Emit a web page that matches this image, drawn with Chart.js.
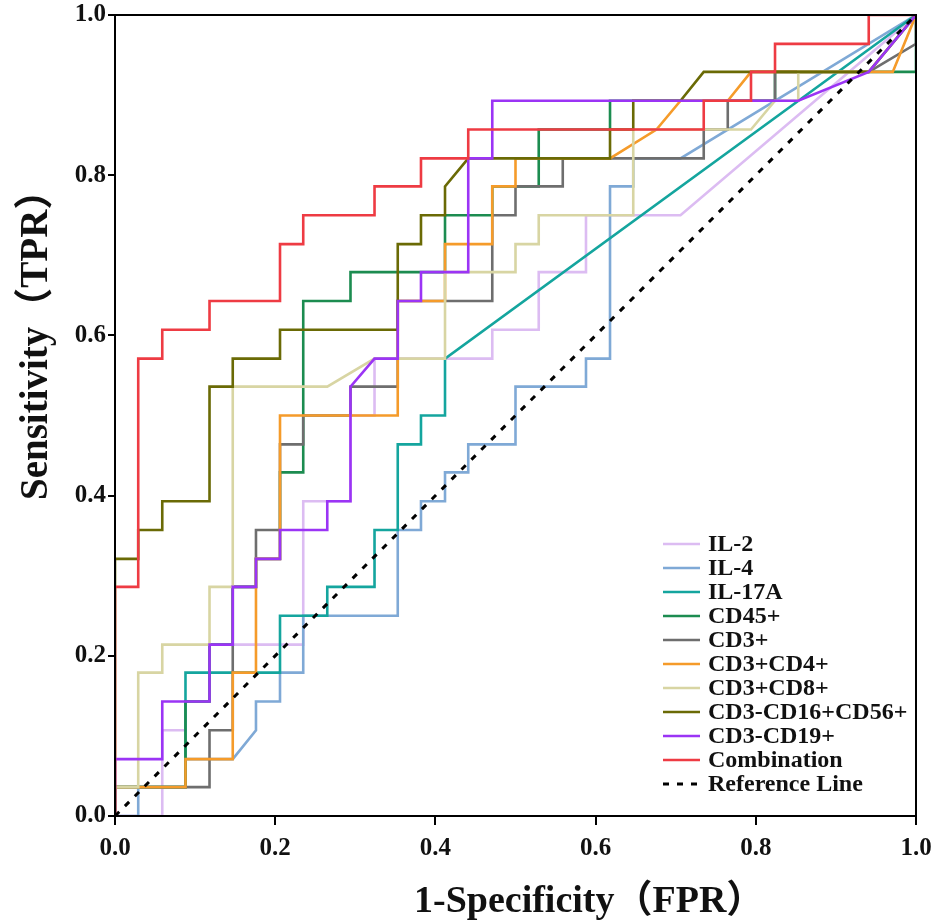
<!DOCTYPE html>
<html>
<head>
<meta charset="utf-8">
<script src="https://cdn.jsdelivr.net/npm/chart.js@4.4.1/dist/chart.umd.min.js"></script>
<style>
  html, body { margin: 0; padding: 0; background: #ffffff; }
  #wrap { width: 935px; height: 922px; }
</style>
</head>
<body>
<div id="wrap"><canvas id="c" width="935" height="922"></canvas></div>
<script>
// ---- data ----
const seriesNames = ["IL-2","IL-4","IL-17A","CD45+","CD3+","CD3+CD4+","CD3+CD8+","CD3-CD16+CD56+","CD3-CD19+","Combination"];
const referenceName = "Reference Line";
const xTickValues = [0, 0.2, 0.4, 0.6, 0.8, 1.0];

const il2_fpr = [0,0.059,0.059,0.088,0.088,0.118,0.118,0.235,0.235,0.294,0.294,0.324,0.324,0.471,0.471,0.529,0.529,0.588,0.588,0.706,1];
const il2_tpr = [0,0,0.107,0.107,0.143,0.143,0.214,0.214,0.393,0.393,0.5,0.5,0.571,0.571,0.607,0.607,0.679,0.679,0.75,0.75,1];

const il4_fpr = [0,0.029,0.029,0.088,0.088,0.147,0.176,0.176,0.206,0.206,0.235,0.235,0.353,0.353,0.382,0.382,0.412,0.412,0.441,0.441,0.5,0.5,0.588,0.588,0.618,0.618,0.647,0.647,0.706,1];
const il4_tpr = [0,0,0.036,0.036,0.071,0.071,0.107,0.143,0.143,0.179,0.179,0.25,0.25,0.357,0.357,0.393,0.393,0.429,0.429,0.464,0.464,0.536,0.536,0.571,0.571,0.786,0.786,0.821,0.821,1];

const il17a_fpr = [0,0,0.088,0.088,0.206,0.206,0.265,0.265,0.324,0.324,0.353,0.353,0.382,0.382,0.412,0.412,1];
const il17a_tpr = [0,0.036,0.036,0.179,0.179,0.25,0.25,0.286,0.286,0.357,0.357,0.464,0.464,0.5,0.5,0.571,1];

const cd45_fpr = [0,0,0.088,0.088,0.118,0.118,0.147,0.147,0.176,0.176,0.206,0.206,0.235,0.235,0.294,0.294,0.412,0.412,0.471,0.471,0.529,0.529,0.618,0.618,0.824,0.824,1,1];
const cd45_tpr = [0,0.036,0.036,0.143,0.143,0.214,0.214,0.286,0.286,0.321,0.321,0.429,0.429,0.643,0.643,0.679,0.679,0.75,0.75,0.786,0.786,0.857,0.857,0.893,0.893,0.929,0.929,1];

const cd3_fpr = [0,0,0.118,0.118,0.147,0.147,0.176,0.176,0.206,0.206,0.235,0.235,0.294,0.294,0.353,0.353,0.471,0.471,0.5,0.5,0.559,0.559,0.735,0.735,0.765,0.765,0.824,0.824,0.941,1,1];
const cd3_tpr = [0,0.036,0.036,0.107,0.107,0.286,0.286,0.357,0.357,0.464,0.464,0.5,0.5,0.536,0.536,0.643,0.643,0.75,0.75,0.786,0.786,0.821,0.821,0.857,0.857,0.893,0.893,0.929,0.929,0.964,1];

const cd3cd4_fpr = [0,0,0.088,0.088,0.147,0.147,0.176,0.176,0.206,0.206,0.353,0.353,0.412,0.412,0.471,0.471,0.5,0.5,0.618,0.676,0.706,0.765,0.794,0.971,1];
const cd3cd4_tpr = [0,0.036,0.036,0.071,0.071,0.179,0.179,0.321,0.321,0.5,0.5,0.643,0.643,0.714,0.714,0.786,0.786,0.821,0.821,0.857,0.893,0.893,0.929,0.929,1];

const cd3cd8_fpr = [0,0,0.029,0.029,0.059,0.059,0.118,0.118,0.147,0.147,0.265,0.324,0.412,0.412,0.5,0.5,0.529,0.529,0.647,0.647,0.794,0.824,0.853,0.853,0.941,1];
const cd3cd8_tpr = [0,0.036,0.036,0.179,0.179,0.214,0.214,0.286,0.286,0.536,0.536,0.571,0.571,0.679,0.679,0.714,0.714,0.75,0.75,0.857,0.857,0.893,0.893,0.929,0.929,1];

const nk_fpr = [0,0,0.029,0.029,0.059,0.059,0.118,0.118,0.147,0.147,0.206,0.206,0.353,0.353,0.382,0.382,0.412,0.412,0.441,0.618,0.618,0.647,0.647,0.706,0.735,0.941,1];
const nk_tpr = [0,0.321,0.321,0.357,0.357,0.393,0.393,0.536,0.536,0.571,0.571,0.607,0.607,0.714,0.714,0.75,0.75,0.786,0.821,0.821,0.857,0.857,0.893,0.893,0.929,0.929,1];

const cd19_fpr = [0,0,0.059,0.059,0.118,0.118,0.147,0.147,0.176,0.176,0.206,0.206,0.265,0.265,0.294,0.294,0.324,0.353,0.353,0.382,0.382,0.441,0.441,0.471,0.471,0.853,0.941,1];
const cd19_tpr = [0,0.071,0.071,0.143,0.143,0.214,0.214,0.286,0.286,0.321,0.321,0.357,0.357,0.393,0.393,0.536,0.571,0.571,0.643,0.643,0.679,0.679,0.821,0.821,0.893,0.893,0.929,1];

const comb_fpr = [0,0,0.029,0.029,0.059,0.059,0.118,0.118,0.206,0.206,0.235,0.235,0.324,0.324,0.382,0.382,0.441,0.441,0.735,0.735,0.794,0.794,0.824,0.824,0.941,0.941,1];
const comb_tpr = [0,0.286,0.286,0.571,0.571,0.607,0.607,0.643,0.643,0.714,0.714,0.75,0.75,0.786,0.786,0.821,0.821,0.857,0.857,0.893,0.893,0.929,0.929,0.964,0.964,1,1];

const ref_fpr = [0, 1];
const ref_tpr = [0, 1];

// ---- styling ----
const seriesColors = ["#dcbcf2","#7fa9d6","#14a59e","#1c8c50","#6e6e6e","#f59b2a","#d8d5a3","#6a6a05","#9b34f5","#ee3b43"];
const fprList = [il2_fpr, il4_fpr, il17a_fpr, cd45_fpr, cd3_fpr, cd3cd4_fpr, cd3cd8_fpr, nk_fpr, cd19_fpr, comb_fpr];
const tprList = [il2_tpr, il4_tpr, il17a_tpr, cd45_tpr, cd3_tpr, cd3cd4_tpr, cd3cd8_tpr, nk_tpr, cd19_tpr, comb_tpr];

function toPoints(xs, ys) { return xs.map((x, i) => ({x: x, y: ys[i]})); }

const datasets = seriesNames.map((name, i) => ({
  label: name,
  data: toPoints(fprList[i], tprList[i]),
  borderColor: seriesColors[i],
  backgroundColor: seriesColors[i],
  borderWidth: 2.6,
  pointRadius: 0,
  tension: 0,
  fill: false,
  order: seriesNames.length - i
}));
datasets.push({
  label: referenceName,
  data: toPoints(ref_fpr, ref_tpr),
  borderColor: "#000000",
  backgroundColor: "#000000",
  borderWidth: 3,
  borderDash: [6, 8],
  pointRadius: 0,
  tension: 0,
  fill: false,
  order: 0
});

const SERIF = "'Liberation Serif', 'Times New Roman', 'Noto Sans CJK SC', serif";

const overlay = {
  id: 'overlay',
  afterDatasetsDraw(chart) {
    const ctx = chart.ctx;
    const a = chart.chartArea;
    ctx.save();
    // plot frame
    ctx.strokeStyle = '#000';
    ctx.lineWidth = 2;
    ctx.setLineDash([]);
    ctx.strokeRect(a.left, a.top, a.right - a.left, a.bottom - a.top);

    // legend (inside plot, lower right)
    const lx0 = 663, lx1 = 700, tx = 708, y0 = 544, step = 24;
    ctx.font = "bold 24px " + SERIF;
    ctx.textBaseline = 'middle';
    ctx.textAlign = 'left';
    chart.data.datasets.forEach((ds, i) => {
      const y = y0 + i * step;
      ctx.beginPath();
      ctx.strokeStyle = ds.borderColor;
      ctx.lineWidth = ds.borderWidth;
      ctx.setLineDash(ds.borderDash || []);
      ctx.moveTo(lx0, y);
      ctx.lineTo(lx1, y);
      ctx.stroke();
      ctx.setLineDash([]);
      ctx.fillStyle = '#111';
      ctx.fillText(ds.label, tx, y + 1);
    });

    // axis titles
    ctx.fillStyle = '#111';
    ctx.font = "bold 38px " + SERIF;
    ctx.textBaseline = 'alphabetic';
    ctx.textAlign = 'left';
    ctx.fillText("1-Specificity（FPR）", 414, 912);
    ctx.translate(47, 500);
    ctx.rotate(-Math.PI / 2);
    ctx.font = "bold 39px " + SERIF;
    ctx.fillText("Sensitivity（TPR）", 0, 0);
    ctx.restore();
  }
};

new Chart(document.getElementById('c'), {
  type: 'line',
  data: { datasets: datasets },
  options: {
    responsive: false,
    animation: false,
    devicePixelRatio: 1,
    layout: { padding: { left: 0, right: 19, top: 15, bottom: 0 } },
    plugins: { legend: { display: false }, tooltip: { enabled: false } },
    scales: {
      x: {
        type: 'linear', min: 0, max: 1,
        afterBuildTicks(scale) { scale.ticks = xTickValues.map(v => ({value: v})); },
        afterFit(scale) { scale.height = 106; scale.paddingLeft = 0; scale.paddingRight = 0; },
        ticks: {
          callback: v => Number(v).toFixed(1),
          font: { family: SERIF, size: 25, weight: 'bold' },
          color: '#111', padding: 9, maxRotation: 0, autoSkip: false
        },
        grid: { drawOnChartArea: false, drawTicks: true, tickLength: 9, color: '#000', lineWidth: 2 },
        border: { display: true, color: '#000', width: 2 }
      },
      y: {
        type: 'linear', min: 0, max: 1,
        afterBuildTicks(scale) { scale.ticks = xTickValues.map(v => ({value: v})); },
        afterFit(scale) { scale.width = 115; scale.paddingTop = 0; scale.paddingBottom = 0; },
        ticks: {
          callback: v => Number(v).toFixed(1),
          font: { family: SERIF, size: 25, weight: 'bold' },
          color: '#111', padding: 2, autoSkip: false
        },
        grid: { drawOnChartArea: false, drawTicks: true, tickLength: 7, color: '#000', lineWidth: 2 },
        border: { display: true, color: '#000', width: 2 }
      }
    }
  },
  plugins: [overlay]
});
</script>
</body>
</html>
